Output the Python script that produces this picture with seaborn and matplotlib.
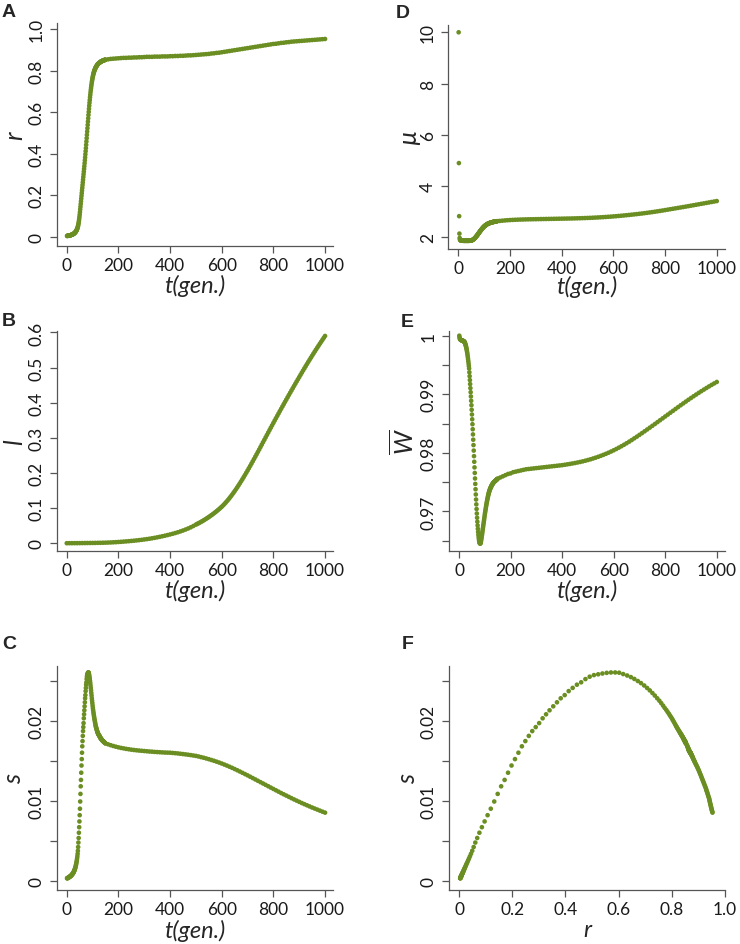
import matplotlib
matplotlib.use("Agg")
import matplotlib.pyplot as plt
import pandas as pd
import seaborn as sns

# ---------------- data ----------------
gen_early = list(range(1, 151))
gen_late = list(range(160, 1001, 10))
gen_l = list(range(0, 500, 10)) + list(range(500, 1001, 5))

r_early = [0.0040, 0.0042, 0.0044, 0.0046, 0.0048, 0.0051, 0.0053, 0.0056, 0.0059, 0.0062,
           0.0065, 0.0068, 0.0072, 0.0075, 0.0079, 0.0083, 0.0087, 0.0091, 0.0096, 0.0101,
           0.0106, 0.0112, 0.0118, 0.0124, 0.0131, 0.0139, 0.0147, 0.0156, 0.0166, 0.0177,
           0.0189, 0.0202, 0.0216, 0.0232, 0.0250, 0.0270, 0.0292, 0.0316, 0.0343, 0.0373,
           0.0407, 0.0446, 0.0492, 0.0546, 0.0608, 0.0680, 0.0762, 0.0855, 0.0958, 0.1070,
           0.119, 0.132, 0.145, 0.158, 0.171, 0.184, 0.197, 0.210, 0.223, 0.236,
           0.249, 0.262, 0.275, 0.288, 0.301, 0.314, 0.327, 0.340, 0.354, 0.368,
           0.382, 0.397, 0.412, 0.427, 0.443, 0.459, 0.475, 0.491, 0.507, 0.523,
           0.539, 0.555, 0.571, 0.587, 0.602, 0.617, 0.632, 0.646, 0.659, 0.672,
           0.684, 0.696, 0.707, 0.717, 0.727, 0.736, 0.745, 0.753, 0.760, 0.767,
           0.773, 0.779, 0.784, 0.789, 0.793, 0.797, 0.801, 0.804, 0.807, 0.810,
           0.813, 0.816, 0.818, 0.820, 0.822, 0.824, 0.826, 0.828, 0.830, 0.831,
           0.833, 0.834, 0.835, 0.836, 0.837, 0.838, 0.839, 0.840, 0.841, 0.842,
           0.843, 0.844, 0.844, 0.845, 0.846, 0.846, 0.847, 0.848, 0.848, 0.849,
           0.849, 0.850, 0.850, 0.851, 0.851, 0.852, 0.852, 0.852, 0.853, 0.853]
r_late = [0.855, 0.857, 0.858, 0.859, 0.860, 0.861, 0.862, 0.862, 0.863, 0.863,
          0.864, 0.864, 0.865, 0.865, 0.866, 0.867, 0.867, 0.867, 0.868, 0.868,
          0.868, 0.869, 0.869, 0.869, 0.870, 0.870, 0.871, 0.871, 0.872, 0.872,
          0.873, 0.874, 0.874, 0.875, 0.876, 0.877, 0.878, 0.879, 0.880, 0.881,
          0.883, 0.884, 0.886, 0.887, 0.889, 0.891, 0.893, 0.895, 0.897, 0.899,
          0.901, 0.903, 0.905, 0.907, 0.909, 0.911, 0.913, 0.915, 0.917, 0.919,
          0.921, 0.923, 0.925, 0.927, 0.929, 0.930, 0.932, 0.934, 0.935, 0.937,
          0.938, 0.940, 0.941, 0.942, 0.943, 0.944, 0.945, 0.946, 0.947, 0.948,
          0.949, 0.950, 0.951, 0.952, 0.953]

s_early = [0.00030, 0.00032, 0.00033, 0.00035, 0.00036, 0.00038, 0.00040, 0.00042, 0.00044, 0.00047,
           0.00049, 0.00051, 0.00054, 0.00056, 0.00059, 0.00062, 0.00065, 0.00068, 0.00072, 0.00076,
           0.00080, 0.00084, 0.00089, 0.00093, 0.00098, 0.00104, 0.00110, 0.00117, 0.00125, 0.00133,
           0.00142, 0.00152, 0.00162, 0.00174, 0.00188, 0.00203, 0.00219, 0.00237, 0.00257, 0.00280,
           0.00306, 0.00337, 0.00374, 0.00421, 0.00477, 0.00534, 0.00600, 0.00669, 0.00741, 0.00819,
           0.00900, 0.00990, 0.01085, 0.01180, 0.01260, 0.01350, 0.01440, 0.01520, 0.01600, 0.01680,
           0.01745, 0.01810, 0.01870, 0.01920, 0.01970, 0.02030, 0.02080, 0.02130, 0.02180, 0.02230,
           0.02280, 0.02320, 0.02370, 0.02410, 0.02450, 0.02480, 0.02520, 0.02550, 0.02570, 0.02580,
           0.02590, 0.02598, 0.02603, 0.02603, 0.02600, 0.02583, 0.02565, 0.02545, 0.02522, 0.02496,
           0.02470, 0.02440, 0.02409, 0.02379, 0.02346, 0.02314, 0.02280, 0.02250, 0.02220, 0.02189,
           0.02160, 0.02135, 0.02110, 0.02087, 0.02065, 0.02045, 0.02024, 0.02006, 0.01988, 0.01970,
           0.01952, 0.01934, 0.01922, 0.01910, 0.01899, 0.01888, 0.01877, 0.01866, 0.01855, 0.01850,
           0.01839, 0.01833, 0.01828, 0.01822, 0.01817, 0.01811, 0.01806, 0.01800, 0.01794, 0.01788,
           0.01782, 0.01776, 0.01773, 0.01770, 0.01764, 0.01761, 0.01758, 0.01752, 0.01749, 0.01746,
           0.01743, 0.01740, 0.01737, 0.01734, 0.01731, 0.01728, 0.01725, 0.01722, 0.01719, 0.01716]
s_late = [0.01705, 0.01694, 0.01684, 0.01675, 0.01667, 0.01660, 0.01654, 0.01648, 0.01643, 0.01638,
          0.01634, 0.01630, 0.01627, 0.01624, 0.01621, 0.01618, 0.01615, 0.01613, 0.01610, 0.01608,
          0.01606, 0.01604, 0.01602, 0.01601, 0.01600, 0.01597, 0.01594, 0.01591, 0.01587, 0.01583,
          0.01579, 0.01575, 0.01570, 0.01565, 0.01560, 0.01553, 0.01545, 0.01537, 0.01528, 0.01519,
          0.01509, 0.01499, 0.01488, 0.01477, 0.01465, 0.01452, 0.01439, 0.01425, 0.01411, 0.01396,
          0.01381, 0.01365, 0.01349, 0.01333, 0.01317, 0.01300, 0.01283, 0.01266, 0.01249, 0.01232,
          0.01215, 0.01198, 0.01181, 0.01164, 0.01147, 0.01130, 0.01113, 0.01096, 0.01080, 0.01064,
          0.01048, 0.01032, 0.01016, 0.01001, 0.00986, 0.00971, 0.00957, 0.00943, 0.00929, 0.00915,
          0.00902, 0.00889, 0.00876, 0.00863, 0.00851]

mu_early = [10.0, 4.9, 2.83, 2.15, 1.98, 1.92, 1.90, 1.89, 1.885, 1.88,
            1.878, 1.876, 1.875, 1.874, 1.873, 1.872, 1.872, 1.871, 1.871, 1.870,
            1.870, 1.870, 1.870, 1.870, 1.870, 1.870, 1.870, 1.870, 1.870, 1.870,
            1.870, 1.870, 1.870, 1.870, 1.870, 1.870, 1.870, 1.870, 1.870, 1.870,
            1.870, 1.871, 1.871, 1.872, 1.873, 1.874, 1.876, 1.878, 1.880, 1.883,
            1.886, 1.890, 1.894, 1.899, 1.904, 1.910, 1.917, 1.924, 1.932, 1.940,
            1.949, 1.958, 1.968, 1.978, 1.989, 2.000, 2.012, 2.024, 2.036, 2.049,
            2.062, 2.075, 2.088, 2.101, 2.115, 2.129, 2.143, 2.157, 2.171, 2.185,
            2.199, 2.213, 2.227, 2.241, 2.255, 2.268, 2.281, 2.294, 2.307, 2.320,
            2.332, 2.344, 2.356, 2.368, 2.379, 2.390, 2.401, 2.411, 2.421, 2.431,
            2.440, 2.449, 2.458, 2.466, 2.474, 2.482, 2.489, 2.496, 2.503, 2.509,
            2.515, 2.521, 2.527, 2.532, 2.537, 2.542, 2.547, 2.551, 2.555, 2.559,
            2.563, 2.567, 2.571, 2.574, 2.577, 2.580, 2.583, 2.586, 2.589, 2.592,
            2.595, 2.597, 2.600, 2.602, 2.605, 2.607, 2.609, 2.611, 2.613, 2.615,
            2.617, 2.619, 2.621, 2.623, 2.625, 2.627, 2.629, 2.631, 2.633, 2.635]
mu_late = [2.645, 2.655, 2.664, 2.672, 2.679, 2.685, 2.690, 2.694, 2.698, 2.701,
           2.704, 2.707, 2.709, 2.711, 2.713, 2.715, 2.717, 2.719, 2.721, 2.723,
           2.725, 2.727, 2.729, 2.731, 2.733, 2.735, 2.737, 2.739, 2.741, 2.744,
           2.747, 2.750, 2.753, 2.757, 2.761, 2.765, 2.770, 2.775, 2.780, 2.786,
           2.792, 2.799, 2.806, 2.813, 2.821, 2.829, 2.838, 2.847, 2.857, 2.867,
           2.877, 2.888, 2.899, 2.910, 2.922, 2.934, 2.947, 2.960, 2.974, 2.988,
           3.003, 3.018, 3.034, 3.050, 3.067, 3.084, 3.101, 3.118, 3.135, 3.152,
           3.169, 3.186, 3.203, 3.221, 3.239, 3.257, 3.275, 3.293, 3.311, 3.329,
           3.347, 3.365, 3.383, 3.401, 3.419]

w_early = [1.0000, 0.9997, 0.9995, 0.9994, 0.99935, 0.9993, 0.99928, 0.99926, 0.99924, 0.99922,
           0.9992, 0.99918, 0.99916, 0.99914, 0.99912, 0.9991, 0.99908, 0.99906, 0.99903, 0.9990,
           0.99893, 0.99884, 0.99873, 0.99861, 0.99848, 0.99833, 0.99816, 0.99797, 0.99776, 0.99753,
           0.99727, 0.99699, 0.99668, 0.99635, 0.99600, 0.99563, 0.99524, 0.99483, 0.99440, 0.99375,
           0.99309, 0.99242, 0.99174, 0.99105, 0.99035, 0.98963, 0.98889, 0.98813, 0.98735, 0.98655,
           0.98573, 0.98489, 0.98403, 0.98315, 0.98225, 0.98133, 0.98039, 0.97944, 0.97848, 0.97752,
           0.97657, 0.97563, 0.97470, 0.97379, 0.97290, 0.97204, 0.97121, 0.97041, 0.96965, 0.96893,
           0.96825, 0.96762, 0.96704, 0.96651, 0.96604, 0.96563, 0.96528, 0.96499, 0.96477, 0.96462,
           0.96454, 0.96452, 0.96456, 0.96466, 0.96485, 0.96515, 0.96542, 0.96571, 0.96600, 0.96630,
           0.96662, 0.96694, 0.96726, 0.96758, 0.96790, 0.96822, 0.96854, 0.96886, 0.96918, 0.96950,
           0.96979, 0.97007, 0.97035, 0.97063, 0.97090, 0.97115, 0.97140, 0.97164, 0.97187, 0.97210,
           0.97231, 0.97252, 0.97272, 0.97291, 0.97310, 0.97325, 0.97340, 0.97354, 0.97367, 0.97380,
           0.97390, 0.97400, 0.97410, 0.97420, 0.97430, 0.97438, 0.97446, 0.97454, 0.97462, 0.97470,
           0.97476, 0.97482, 0.97488, 0.97494, 0.97500, 0.97504, 0.97508, 0.97512, 0.97516, 0.97520,
           0.97524, 0.97528, 0.97532, 0.97536, 0.97540, 0.97544, 0.97548, 0.97552, 0.97556, 0.97560]
w_late = [0.9758, 0.9760, 0.9762, 0.9764, 0.9765, 0.9767, 0.9768, 0.9769, 0.9770, 0.9771,
          0.9772, 0.97725, 0.9773, 0.97735, 0.9774, 0.97745, 0.9775, 0.97755, 0.9776, 0.97765,
          0.9777, 0.97775, 0.9778, 0.97785, 0.9779, 0.97797, 0.97804, 0.97811, 0.97819, 0.97827,
          0.97836, 0.97845, 0.97855, 0.97866, 0.97878, 0.9789, 0.97904, 0.97918, 0.97933, 0.97949,
          0.97966, 0.97984, 0.98003, 0.98023, 0.98044, 0.98066, 0.98089, 0.98113, 0.98138, 0.98164,
          0.98191, 0.98219, 0.98248, 0.98277, 0.98307, 0.98337, 0.98368, 0.98399, 0.9843, 0.98461,
          0.98493, 0.98525, 0.98557, 0.98589, 0.98621, 0.98653, 0.98685, 0.98717, 0.98749, 0.98781,
          0.98813, 0.98844, 0.98875, 0.98906, 0.98936, 0.98966, 0.98995, 0.99024, 0.99052, 0.9908,
          0.99107, 0.99134, 0.9916, 0.99185, 0.9921]

l_early = [0.0, 0.0001, 0.0001, 0.0002, 0.0002, 0.0003, 0.0004, 0.0005, 0.0006, 0.0007,
           0.0008, 0.0009, 0.0011, 0.0012, 0.0014, 0.0016, 0.0019, 0.0022, 0.0026, 0.0030,
           0.0035, 0.0040, 0.0046, 0.0052, 0.0058, 0.0065, 0.0072, 0.0080, 0.0088, 0.0097,
           0.0107, 0.0117, 0.0128, 0.0140, 0.0153, 0.0167, 0.0182, 0.0198, 0.0214, 0.0232,
           0.0250, 0.0269, 0.0290, 0.0312, 0.0336, 0.0362, 0.0390, 0.0420, 0.0453, 0.0490]
l_late = [0.0530, 0.0549, 0.0568, 0.0588, 0.0608, 0.0629, 0.0651, 0.0674, 0.0697, 0.0721,
          0.0746, 0.0772, 0.0798, 0.0825, 0.0853, 0.0882, 0.0911, 0.0942, 0.0973, 0.1005,
          0.1038, 0.1075, 0.1113, 0.1153, 0.1195, 0.1239, 0.1284, 0.1331, 0.1380, 0.1430,
          0.1482, 0.1535, 0.1590, 0.1646, 0.1703, 0.1762, 0.1821, 0.1882, 0.1943, 0.2006,
          0.2069, 0.2133, 0.2198, 0.2264, 0.2330, 0.2397, 0.2464, 0.2532, 0.2600, 0.2668,
          0.2737, 0.2806, 0.2875, 0.2944, 0.3013, 0.3082, 0.3151, 0.3220, 0.3288, 0.3356,
          0.3424, 0.3492, 0.3559, 0.3626, 0.3693, 0.3760, 0.3826, 0.3892, 0.3958, 0.4024,
          0.4089, 0.4154, 0.4219, 0.4284, 0.4348, 0.4412, 0.4476, 0.4540, 0.4603, 0.4666,
          0.4729, 0.4792, 0.4854, 0.4916, 0.4978, 0.5039, 0.5100, 0.5160, 0.5220, 0.5279,
          0.5338, 0.5396, 0.5454, 0.5511, 0.5568, 0.5624, 0.5680, 0.5735, 0.5790, 0.5845,
          0.5900]

t_ticks = [0, 200, 400, 600, 800, 1000]
t_ticklabels = ["0", "200", "400", "600", "800", "1000"]
r_ticks = [0, 0.2, 0.4, 0.6, 0.8, 1.0]
r_ticklabels = ["0", "0.2", "0.4", "0.6", "0.8", "1.0"]
l_ticks = [0, 0.1, 0.2, 0.3, 0.4, 0.5, 0.6]
l_ticklabels = ["0", "0.1", "0.2", "0.3", "0.4", "0.5", "0.6"]
s_ticks = [0, 0.005, 0.01, 0.015, 0.02, 0.025]
s_ticklabels = ["0", "", "0.01", "", "0.02", ""]
mu_ticks = [2, 4, 6, 8, 10]
mu_ticklabels = ["2", "4", "6", "8", "10"]
w_ticks = [0.965, 0.97, 0.975, 0.98, 0.985, 0.99, 0.995, 1.0]
w_ticklabels = ["", "0.97", "", "0.98", "", "0.99", "", "1"]

# ---------------- frames ----------------
df = pd.DataFrame({"t": gen_early + gen_late,
                   "r": r_early + r_late,
                   "s": s_early + s_late,
                   "mu": mu_early + mu_late,
                   "w": w_early + w_late})
dfl = pd.DataFrame({"t": gen_l, "l": l_early + l_late})

sns.set_theme(style="ticks")
plt.rcParams["font.family"] = ["Lato", "DejaVu Sans"]
plt.rcParams["mathtext.fontset"] = "custom"
plt.rcParams["mathtext.it"] = "Lato:italic"
plt.rcParams["mathtext.rm"] = "Lato"

GREEN = "#6B8E23"
AXC = "#555555"
W, H = 740, 945
fig = plt.figure(figsize=(W / 100, H / 100), dpi=100)


def add_ax(x0, x1, y0, y1):
    return fig.add_axes([x0 / W, 1 - y1 / H, (x1 - x0) / W, (y1 - y0) / H])


def panel(box, data, x, y, xlim, ylim, xt, xtl, yt, ytl, xlabel, ylabel,
          xlab_px, ylab_px, letter, letter_xy):
    x0, x1, y0, y1 = box
    ax = add_ax(*box)
    sns.scatterplot(data=data, x=x, y=y, ax=ax, color=GREEN, s=11,
                    edgecolor="none", linewidth=0, legend=False)
    ax.set_xlim(*xlim)
    ax.set_ylim(*ylim)
    ax.set_xticks(xt)
    ax.set_xticklabels(xtl)
    ax.set_yticks(yt)
    ax.set_yticklabels(ytl)
    sns.despine(ax=ax)
    for sp in ("left", "bottom"):
        ax.spines[sp].set_color(AXC)
        ax.spines[sp].set_linewidth(0.9)
    ax.tick_params(direction="out", length=5, width=0.9, color=AXC,
                   labelsize=12.5, labelcolor="#1a1a1a")
    ax.tick_params(axis="x", pad=3)
    ax.tick_params(axis="y", labelrotation=90, pad=4)
    for lab in ax.get_yticklabels():
        lab.set_va("center")
    ax.set_xlabel(xlabel, fontsize=17, style="italic")
    ax.xaxis.label.set_va("center")
    ax.xaxis.set_label_coords(0.5, -xlab_px / (y1 - y0))
    ax.set_ylabel(ylabel, fontsize=18, style="italic")
    ax.yaxis.label.set_va("center")
    ax.yaxis.set_label_coords(-ylab_px / (x1 - x0), 0.5)
    fig.text(letter_xy[0] / W, 1 - letter_xy[1] / H, letter, ha="left", va="top",
             fontsize=14, fontweight="bold", family="Liberation Sans")
    return ax


TX = (-39, 1032)
panel((56.7, 333.3, 24, 246.7), df, "t", "r", TX, (-0.043, 1.03),
      t_ticks, t_ticklabels, r_ticks, r_ticklabels, "t(gen.)", "r",
      39, 42, "A", (2, 4))
panel((56.7, 333.3, 331.7, 552.3), dfl, "t", "l", TX, (-0.023, 0.605),
      t_ticks, t_ticklabels, l_ticks, l_ticklabels, "t(gen.)", "l",
      39, 42, "B", (2, 313))
panel((56.7, 333.3, 667.3, 891), df, "t", "s", TX, (-0.00116, 0.0268),
      t_ticks, t_ticklabels, s_ticks, s_ticklabels, "t(gen.)", "s",
      40, 43, "C", (2, 636))
panel((448.3, 725, 25.6, 250), df, "t", "mu", TX, (1.55, 10.3),
      t_ticks, t_ticklabels, mu_ticks, mu_ticklabels, "t(gen.)", "\u00b5",
      37, 40, "D", (396, 5))
panel((449, 725, 331.7, 552.3), df, "t", "w", TX, (0.9632, 1.00085),
      t_ticks, t_ticklabels, w_ticks, w_ticklabels, "t(gen.)", r"$\overline{W}$",
      39, 46, "E", (401, 314))
panel((449.3, 725, 667.3, 891), df, "r", "s", (-0.037, 1.0), (-0.00116, 0.0268),
      r_ticks, r_ticklabels, s_ticks, s_ticklabels, "r", "s",
      40, 42, "F", (402, 636))

fig.savefig("out.png", dpi=100, facecolor="white")
